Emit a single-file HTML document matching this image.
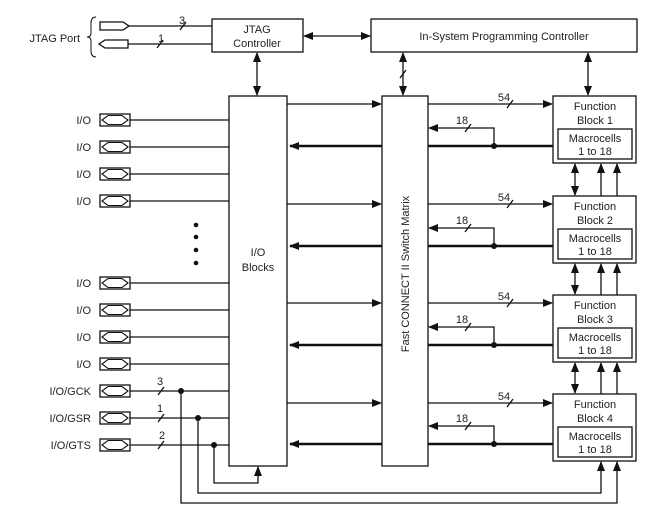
<!DOCTYPE html>
<html><head><style>
html,body{margin:0;padding:0;background:#fff;}
svg{display:block;font-family:"Liberation Sans",Arial,sans-serif;}
text{fill:#222;font-size:11px;}
</style></head><body>
<svg width="653" height="517" viewBox="0 0 653 517" xmlns="http://www.w3.org/2000/svg">
<defs>
<marker id="a" markerWidth="10" markerHeight="8" refX="9" refY="4" orient="auto" markerUnits="userSpaceOnUse"><path d="M0,0 L10,4 L0,8 Z" fill="#111"/></marker>
<marker id="s" markerWidth="10" markerHeight="8" refX="1" refY="4" orient="auto" markerUnits="userSpaceOnUse"><path d="M10,0 L0,4 L10,8 Z" fill="#111"/></marker>
<g id="pad"><rect x="0" y="-6" width="30" height="12" fill="#fff" stroke="#111" stroke-width="1.3"/><path d="M2,0 L8,-4.5 L22,-4.5 L28,0 L22,4.5 L8,4.5 Z" fill="none" stroke="#111" stroke-width="1.1"/></g>
</defs>
<rect width="653" height="517" fill="#fff"/>
<g stroke="#111" fill="none" stroke-width="1.3">
<!-- boxes -->
<rect x="212" y="19" width="91" height="33"/>
<rect x="371" y="19" width="266" height="33"/>
<rect x="229" y="96" width="58" height="370"/>
<rect x="382" y="96" width="46" height="370"/>
<rect x="553" y="96" width="83" height="67"/><rect x="558" y="129" width="74" height="30"/>
<rect x="553" y="196" width="83" height="67"/><rect x="558" y="229" width="74" height="30"/>
<rect x="553" y="295" width="83" height="67"/><rect x="558" y="328" width="74" height="30"/>
<rect x="553" y="394" width="83" height="67"/><rect x="558" y="427" width="74" height="30"/>
<!-- JTAG port -->
<path d="M100,22 L123,22 L129,26 L123,30 L100,30 Z"/>
<path d="M128,40 L105,40 L99,44 L105,48 L128,48 Z"/>
<line x1="129" y1="26" x2="212" y2="26"/><line x1="128" y1="44" x2="212" y2="44"/>
<line x1="180" y1="30" x2="186" y2="22"/><line x1="157" y1="48" x2="163" y2="40"/>
<path d="M96,17 Q91,17 91,23 L91,33 Q91,37 87,37 Q91,37 91,41 L91,51 Q91,57 96,57" stroke-width="1"/>
<!-- JTAG <-> ISP -->
<line x1="304" y1="36" x2="370" y2="36" marker-start="url(#s)" marker-end="url(#a)"/>
<line x1="257" y1="53" x2="257" y2="95" marker-start="url(#s)" marker-end="url(#a)"/>
<line x1="403" y1="53" x2="403" y2="95" marker-start="url(#s)" marker-end="url(#a)"/>
<line x1="400" y1="78" x2="406" y2="70"/>
<line x1="588" y1="53" x2="588" y2="95" marker-start="url(#s)" marker-end="url(#a)"/>
<!-- I/O lines -->
<line x1="130" y1="120" x2="229" y2="120"/><line x1="130" y1="147" x2="229" y2="147"/>
<line x1="130" y1="174" x2="229" y2="174"/><line x1="130" y1="201" x2="229" y2="201"/>
<line x1="130" y1="283" x2="229" y2="283"/><line x1="130" y1="310" x2="229" y2="310"/>
<line x1="130" y1="337" x2="229" y2="337"/><line x1="130" y1="364" x2="229" y2="364"/>
<line x1="130" y1="391" x2="229" y2="391"/><line x1="130" y1="418" x2="229" y2="418"/>
<line x1="130" y1="445" x2="229" y2="445"/>
<line x1="158" y1="395" x2="164" y2="387"/><line x1="158" y1="422" x2="164" y2="414"/><line x1="158" y1="449" x2="164" y2="441"/>
<!-- global loops -->
<path d="M214,445 L214,483 L258,483 L258,467" marker-end="url(#a)"/>
<path d="M198,418 L198,493 L601,493 L601,462" marker-end="url(#a)"/>
<path d="M181,391 L181,503 L617,503 L617,462" marker-end="url(#a)"/>
<!-- IO block to switch -->
<line x1="287" y1="104" x2="381" y2="104" marker-end="url(#a)"/>
<line x1="287" y1="204" x2="381" y2="204" marker-end="url(#a)"/>
<line x1="287" y1="303" x2="381" y2="303" marker-end="url(#a)"/>
<line x1="287" y1="403" x2="381" y2="403" marker-end="url(#a)"/>
<g stroke-width="2.6">
<line x1="382" y1="146" x2="290" y2="146" marker-end="url(#a)"/>
<line x1="382" y1="246" x2="290" y2="246" marker-end="url(#a)"/>
<line x1="382" y1="345" x2="290" y2="345" marker-end="url(#a)"/>
<line x1="382" y1="444" x2="290" y2="444" marker-end="url(#a)"/>
<line x1="428" y1="146" x2="553" y2="146"/><line x1="428" y1="246" x2="553" y2="246"/>
<line x1="428" y1="345" x2="553" y2="345"/><line x1="428" y1="444" x2="553" y2="444"/>
</g>
<!-- switch to FB -->
<line x1="428" y1="104" x2="552" y2="104" marker-end="url(#a)"/>
<line x1="428" y1="204" x2="552" y2="204" marker-end="url(#a)"/>
<line x1="428" y1="303" x2="552" y2="303" marker-end="url(#a)"/>
<line x1="428" y1="403" x2="552" y2="403" marker-end="url(#a)"/>
<line x1="507" y1="108" x2="513" y2="100"/><line x1="507" y1="208" x2="513" y2="200"/>
<line x1="507" y1="307" x2="513" y2="299"/><line x1="507" y1="407" x2="513" y2="399"/>
<path d="M494,146 L494,128 L429,128" marker-end="url(#a)"/>
<path d="M494,246 L494,228 L429,228" marker-end="url(#a)"/>
<path d="M494,345 L494,327 L429,327" marker-end="url(#a)"/>
<path d="M494,444 L494,426 L429,426" marker-end="url(#a)"/>
<line x1="465" y1="132" x2="471" y2="124"/><line x1="465" y1="232" x2="471" y2="224"/>
<line x1="465" y1="331" x2="471" y2="323"/><line x1="465" y1="430" x2="471" y2="422"/>
<!-- FB interconnect -->
<line x1="575" y1="164" x2="575" y2="195" marker-start="url(#s)" marker-end="url(#a)"/>
<line x1="601" y1="196" x2="601" y2="164" marker-end="url(#a)"/><line x1="617" y1="196" x2="617" y2="164" marker-end="url(#a)"/>
<line x1="575" y1="264" x2="575" y2="294" marker-start="url(#s)" marker-end="url(#a)"/>
<line x1="601" y1="295" x2="601" y2="264" marker-end="url(#a)"/><line x1="617" y1="295" x2="617" y2="264" marker-end="url(#a)"/>
<line x1="575" y1="363" x2="575" y2="393" marker-start="url(#s)" marker-end="url(#a)"/>
<line x1="601" y1="394" x2="601" y2="363" marker-end="url(#a)"/><line x1="617" y1="394" x2="617" y2="363" marker-end="url(#a)"/>
</g>
<g fill="#111">
<circle cx="494" cy="146" r="3"/><circle cx="494" cy="246" r="3"/><circle cx="494" cy="345" r="3"/><circle cx="494" cy="444" r="3"/>
<circle cx="181" cy="391" r="3"/><circle cx="198" cy="418" r="3"/><circle cx="214" cy="445" r="3"/>
<circle cx="196" cy="225" r="2.3"/><circle cx="196" cy="237" r="2.3"/><circle cx="196" cy="250" r="2.3"/><circle cx="196" cy="263" r="2.3"/>
</g>
<use href="#pad" x="100" y="120"/><use href="#pad" x="100" y="147"/><use href="#pad" x="100" y="174"/><use href="#pad" x="100" y="201"/>
<use href="#pad" x="100" y="283"/><use href="#pad" x="100" y="310"/><use href="#pad" x="100" y="337"/><use href="#pad" x="100" y="364"/>
<use href="#pad" x="100" y="391"/><use href="#pad" x="100" y="418"/><use href="#pad" x="100" y="445"/>
<g text-anchor="end">
<text x="80" y="42">JTAG Port</text>
<text x="91" y="124">I/O</text><text x="91" y="151">I/O</text><text x="91" y="178">I/O</text><text x="91" y="205">I/O</text>
<text x="91" y="287">I/O</text><text x="91" y="314">I/O</text><text x="91" y="341">I/O</text><text x="91" y="368">I/O</text>
<text x="91" y="395">I/O/GCK</text><text x="91" y="422">I/O/GSR</text><text x="91" y="449">I/O/GTS</text>
</g>
<g text-anchor="middle">
<text x="257" y="33">JTAG</text><text x="257" y="47">Controller</text>
<text x="504" y="40">In-System Programming Controller</text>
<text x="258" y="256">I/O</text><text x="258" y="271">Blocks</text>
<text transform="translate(409,274) rotate(-90)">Fast CONNECT II Switch Matrix</text>
<text x="595" y="110">Function</text><text x="595" y="124">Block 1</text><text x="595" y="142">Macrocells</text><text x="595" y="155">1 to 18</text>
<text x="595" y="210">Function</text><text x="595" y="224">Block 2</text><text x="595" y="242">Macrocells</text><text x="595" y="255">1 to 18</text>
<text x="595" y="309">Function</text><text x="595" y="323">Block 3</text><text x="595" y="341">Macrocells</text><text x="595" y="354">1 to 18</text>
<text x="595" y="408">Function</text><text x="595" y="422">Block 4</text><text x="595" y="440">Macrocells</text><text x="595" y="453">1 to 18</text>
<text x="182" y="24">3</text><text x="161" y="42">1</text>
<text x="160" y="385">3</text><text x="160" y="412">1</text><text x="162" y="439">2</text>
<text x="504" y="101">54</text><text x="504" y="201">54</text><text x="504" y="300">54</text><text x="504" y="400">54</text>
<text x="462" y="124">18</text><text x="462" y="224">18</text><text x="462" y="323">18</text><text x="462" y="422">18</text>
</g>
</svg>
</body></html>
